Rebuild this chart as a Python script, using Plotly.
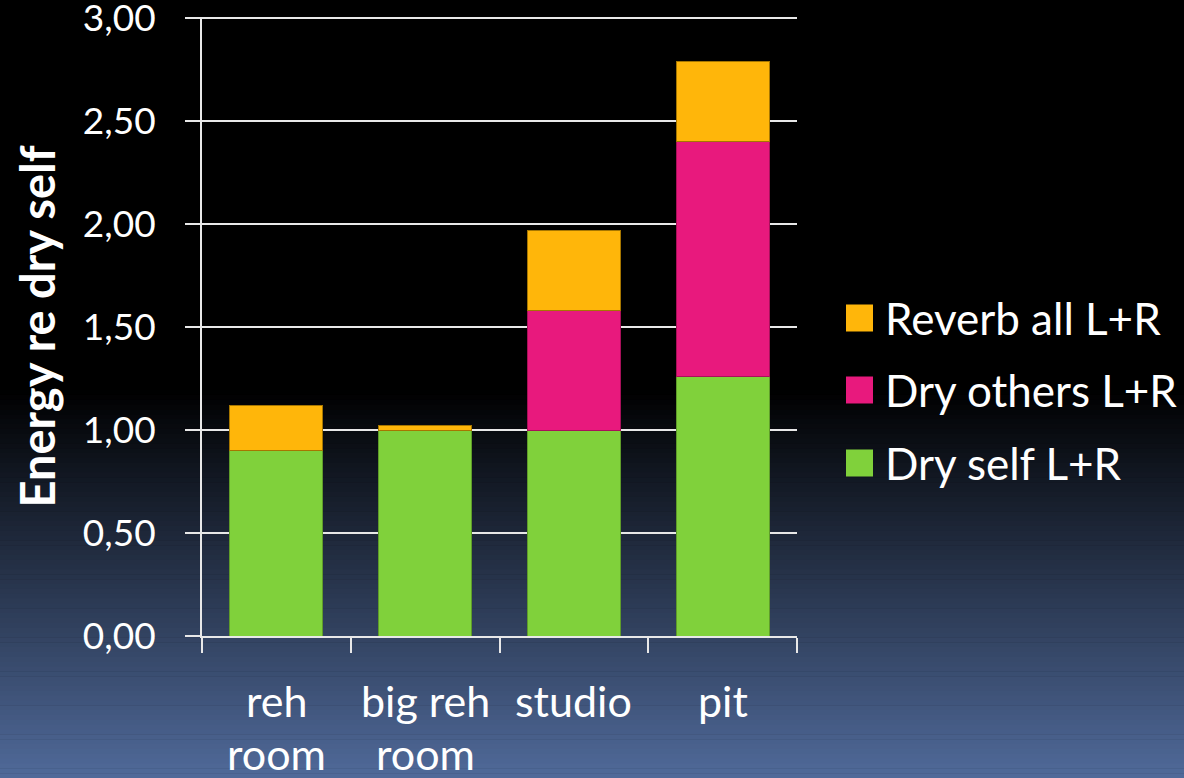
import plotly.graph_objects as go

# ---- data ----
categories = ["reh<br>room", "big reh<br>room", "studio", "pit"]
dry_self = [0.90, 1.00, 1.00, 1.26]
dry_others = [0.00, 0.00, 0.58, 1.14]
reverb_all = [0.22, 0.02, 0.39, 0.39]
series_names = ["Dry self L+R", "Dry others L+R", "Reverb all L+R"]
series_colors = ["#80d13b", "#e8197d", "#ffb60a"]
series_edges = ["#5f9c2a", "#a8105a", "#a67600"]
y_ticks = [0, 0.5, 1, 1.5, 2, 2.5, 3]
y_title = "Energy re dry self"

W, H = 1184, 778
L, R, T, B = 202, 387, 17, 142
PW, PH = W - L - R, H - T - B
FONT = "Lato"

def px2paper(px, py):
    return (px - L) / PW, (H - B - py) / PH

fig = go.Figure()
for vals, name, col, edge in zip([dry_self, dry_others, reverb_all], series_names, series_colors, series_edges):
    fig.add_trace(go.Bar(x=categories, y=vals, name=name, showlegend=False,
                         marker=dict(color=col, line=dict(color=edge, width=1))))

shapes = []
# background gradient: black top, blue-gray bottom
g0, g1 = 390, H
top_col = (0, 0, 0)
bot_col = (0x50, 0x6a, 0x9a)
N = 80
x0p, _ = px2paper(0, 0)
x1p, _ = px2paper(W, 0)
_, ytopp = px2paper(0, 0)
_, ygp = px2paper(0, g0)
shapes.append(dict(type="rect", xref="paper", yref="paper", x0=x0p, x1=x1p, y0=ygp, y1=ytopp,
                   fillcolor="black", line=dict(width=0), layer="below"))
for i in range(N):
    ya = g0 + (g1 - g0) * i / N
    yb = g0 + (g1 - g0) * (i + 1) / N + 0.5
    t = (i + 0.5) / N
    c = tuple(int(round(a + (b - a) * t)) for a, b in zip(top_col, bot_col))
    _, pa = px2paper(0, ya)
    _, pb = px2paper(0, yb)
    shapes.append(dict(type="rect", xref="paper", yref="paper", x0=x0p, x1=x1p, y0=pb, y1=pa,
                       fillcolor="rgb(%d,%d,%d)" % c, line=dict(width=0), layer="below"))

annotations = []
# custom legend (top to bottom: reverse stacking order)
leg_y = [318, 390, 463]
for k, idx in enumerate([2, 1, 0]):
    cy = leg_y[k]
    ax0, ay0 = px2paper(846, cy - 13.5)
    ax1, ay1 = px2paper(873, cy + 13.5)
    shapes.append(dict(type="rect", xref="paper", yref="paper", x0=ax0, x1=ax1, y0=ay1, y1=ay0,
                       fillcolor=series_colors[idx], line=dict(width=0)))
    tx, ty = px2paper(883, cy)
    annotations.append(dict(xref="paper", yref="paper", x=tx, y=ty, xanchor="left", yanchor="middle",
                            text=series_names[idx], showarrow=False,
                            font=dict(family=FONT, size=44, color="white")))

# x category labels (two lines with wide spacing)
line_y = [700, 753]
for cat in categories:
    for j, part in enumerate(cat.split("<br>")):
        _, yy = px2paper(0, line_y[j])
        annotations.append(dict(xref="x", yref="paper", x=cat, y=yy, xanchor="center", yanchor="middle",
                                text=part, showarrow=False,
                                font=dict(family=FONT, size=43, color="white")))

fig.update_layout(
    width=W, height=H,
    margin=dict(l=L, r=R, t=T, b=B, autoexpand=False),
    barmode="stack", bargap=0.375,
    paper_bgcolor="black", plot_bgcolor="rgba(0,0,0,0)",
    separators=",.",
    font=dict(family=FONT, color="white"),
    shapes=shapes, annotations=annotations,
    xaxis=dict(showticklabels=False, ticks="outside", tickson="boundaries", ticklen=15,
               tickwidth=2, tickcolor="#e8e8e8", showline=True, linecolor="#e8e8e8", linewidth=2,
               showgrid=False, range=[-0.5, 3.5], automargin=False),
    yaxis=dict(range=[0, 3.006], tickvals=y_ticks, tickformat=".2f", automargin=False,
               ticks="outside", ticklen=15, ticklabeloverflow="allow",
               tickwidth=2, tickcolor="#e8e8e8", showline=True, linecolor="#e8e8e8", linewidth=2,
               showgrid=True, gridcolor="#e8e8e8", gridwidth=2, zeroline=False,
               tickfont=dict(family=FONT, size=37, color="white"), ticklabelstandoff=22,
               title=dict(text="<b>%s</b>" % y_title, standoff=12,
                          font=dict(family=FONT, size=47, color="white"))),
)

fig.write_html("out.html")
